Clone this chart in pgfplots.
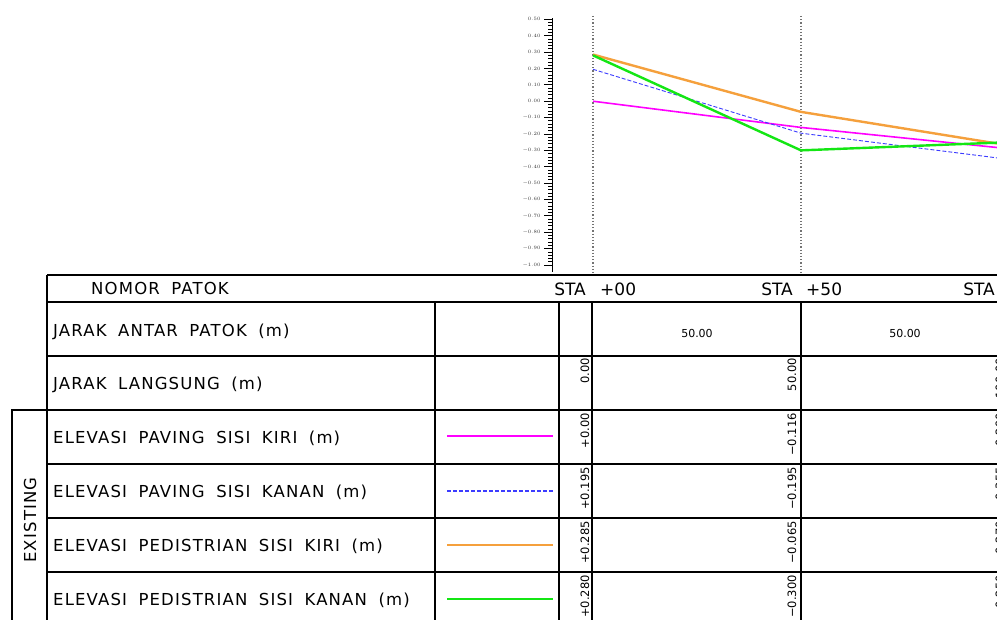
\documentclass[border=0pt]{standalone}
\usepackage{pgfplots}
\pgfplotsset{compat=1.18}
\usepackage{fontspec}
\setmainfont{DejaVu Sans}
\newfontfamily\tbl{DejaVu Sans}[LetterSpace=7,WordSpace=1.8]
\definecolor{cmag}{RGB}{255,0,255}
\definecolor{cblue}{RGB}{60,60,255}
\definecolor{corange}{RGB}{245,160,60}
\definecolor{cgreen}{RGB}{20,230,20}
\begin{document}
\begin{tikzpicture}[x=1pt,y=1pt]
\path[use as bounding box] (0,0) rectangle (997,620);
\clip (0,0) rectangle (997,620);
\fill[white] (0,0) rectangle (997,620);
% station dotted lines
\foreach \sx in {593,801,1009}
  \draw[black!55, dotted, line width=1.2pt] (\sx,{620-16}) -- (\sx,{620-275});
\begin{axis}[
  at={(552pt,348.4pt)}, anchor=south west,
  scale only axis, width=445pt, height=253.9pt,
  xmin=-9.856, xmax=97.115, ymin=-1.04, ymax=0.51,
  axis x line=none, axis y line*=left,
  axis line style={black, line width=1pt},
  ytick={-1,-0.9,-0.8,-0.7,-0.6,-0.5,-0.4,-0.3,-0.2,-0.1,0,0.1,0.2,0.3,0.4,0.5},
  minor y tick num=4,
  tick align=outside,
  major tick length=8pt, minor tick length=4pt,
  tick style={black, line width=0.8pt},
  yticklabel style={font=\fontsize{5}{5}\selectfont, text=black!80,
    /pgf/number format/.cd, fixed, fixed zerofill, precision=2},
  clip=true,
]
\addplot[cmag, line width=1.6pt] coordinates {(0,0.00) (50,-0.16) (100,-0.29)};
\addplot[cblue, line width=0.9pt, dash pattern=on 4pt off 2pt] coordinates {(0,0.195) (50,-0.195) (100,-0.355)};
\addplot[corange, line width=2.4pt] coordinates {(0,0.285) (50,-0.065) (100,-0.27)};
\addplot[cgreen, line width=2.4pt] coordinates {(0,0.280) (50,-0.300) (100,-0.25)};
\end{axis}
% table lines
\begin{scope}[line width=1.8pt, black]
\draw (47,{620-275}) -- (1010,{620-275});
\foreach \yy in {302,356,410,464,518,572}
  \draw (47,{620-\yy}) -- (1010,{620-\yy});
\draw (47,{620-275}) -- (47,-10);
\foreach \xx in {435,559,592,801,1009}
  \draw (\xx,{620-302}) -- (\xx,-10);
\draw (12,-10) -- (12,{620-410}) -- (47,{620-410});
\end{scope}
% legend keys
\draw[cmag, line width=1.6pt] (447,{620-436}) -- (553,{620-436});
\draw[cblue, line width=1.1pt, dash pattern=on 4pt off 2pt] (447,{620-491}) -- (553,{620-491});
\draw[corange, line width=2.4pt] (447,{620-545}) -- (553,{620-545});
\draw[cgreen, line width=2.4pt] (447,{620-599}) -- (553,{620-599});
% row labels
\begin{scope}[every node/.style={inner sep=0pt, font=\tbl\fontsize{16.5}{18}\selectfont}]
\node[anchor=base] at (160,{620-295}) {NOMOR PATOK};
\node[anchor=base west] at (53,{620-337}) {JARAK ANTAR PATOK (m)};
\node[anchor=base west] at (53,{620-390}) {JARAK LANGSUNG (m)};
\node[anchor=base west] at (53,{620-444}) {ELEVASI PAVING SISI KIRI (m)};
\node[anchor=base west] at (53,{620-498}) {ELEVASI PAVING SISI KANAN (m)};
\node[anchor=base west] at (53,{620-552}) {ELEVASI PEDISTRIAN SISI KIRI (m)};
\node[anchor=base west] at (53,{620-606}) {ELEVASI PEDISTRIAN SISI KANAN (m)};
\node[rotate=90] at (30,{620-520}) {EXISTING};
\end{scope}
% station labels
\begin{scope}[every node/.style={inner sep=0pt, font=\fontsize{17}{18}\selectfont}]
\node[anchor=base east] at (586,{620-296}) {STA};
\node[anchor=base west] at (600,{620-296}) {+00};
\node[anchor=base east] at (793,{620-296}) {STA};
\node[anchor=base west] at (806,{620-296}) {+50};
\node[anchor=base east] at (995,{620-296}) {STA};
\end{scope}
% distances
\begin{scope}[every node/.style={inner sep=0pt, font=\fontsize{11}{12}\selectfont}]
\node[anchor=base] at (697,{620-338}) {50.00};
\node[anchor=base] at (905,{620-338}) {50.00};
\end{scope}
% rotated values
\begin{scope}[every node/.style={inner sep=0pt, rotate=90, anchor=east, font=\fontsize{11.5}{12}\selectfont}]
\node at (585,{620-358}) {0.00};
\node at (792,{620-358}) {50.00};
\node at (1000,{620-358}) {100.00};
\node at (585,{620-413}) {+0.00};
\node at (792,{620-413}) {−0.116};
\node at (1000,{620-413}) {−0.290};
\node at (585,{620-467}) {+0.195};
\node at (792,{620-467}) {−0.195};
\node at (1000,{620-467}) {−0.355};
\node at (585,{620-521}) {+0.285};
\node at (792,{620-521}) {−0.065};
\node at (1000,{620-521}) {−0.270};
\node at (585,{620-575}) {+0.280};
\node at (792,{620-575}) {−0.300};
\node at (1000,{620-575}) {−0.250};
\end{scope}
\end{tikzpicture}
\end{document}
